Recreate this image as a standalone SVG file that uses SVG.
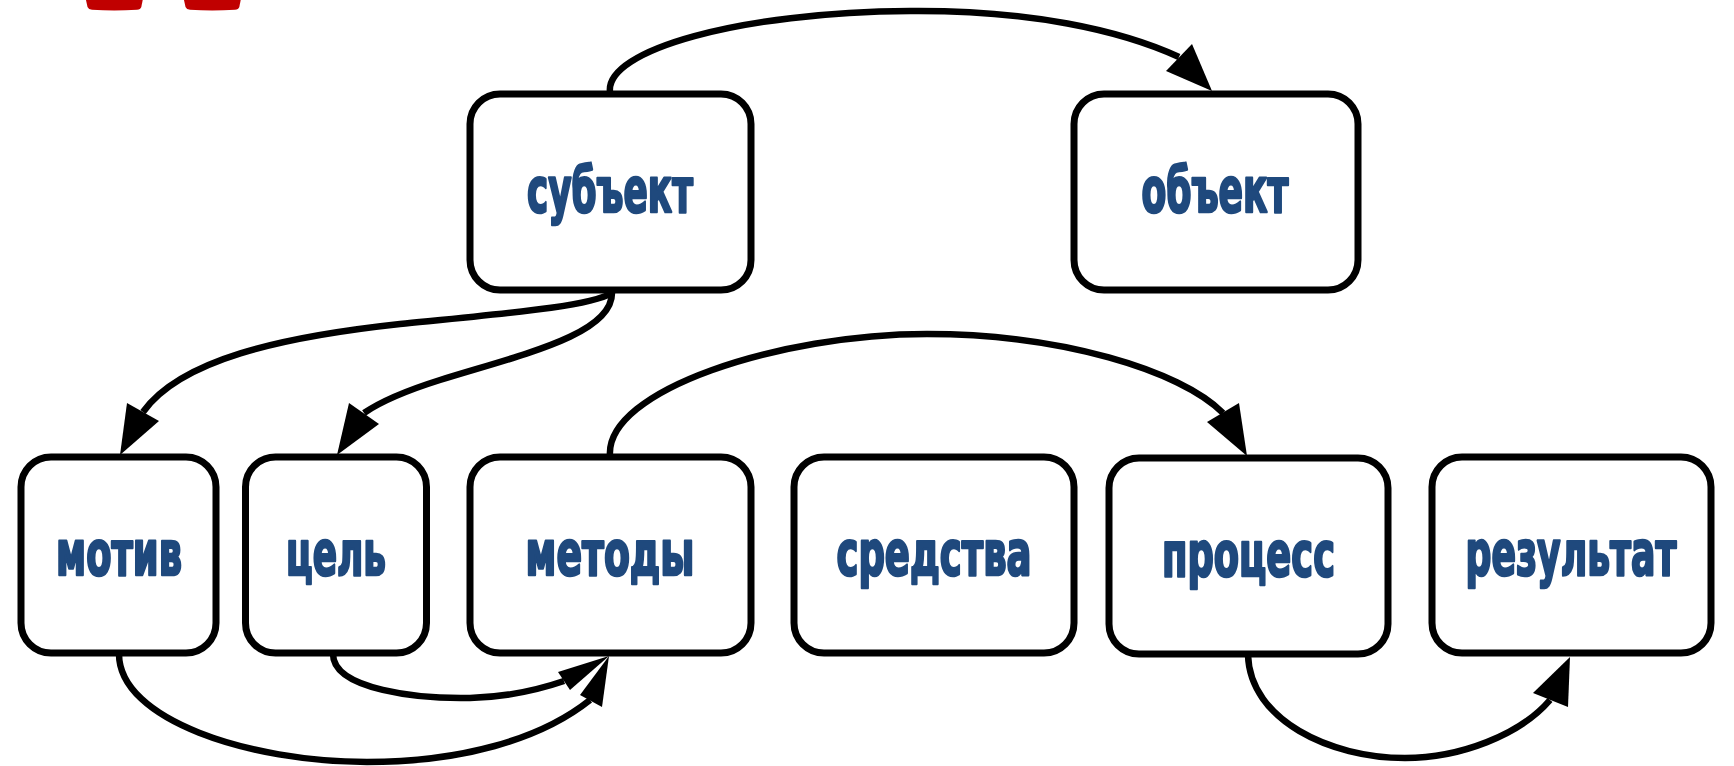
<svg xmlns="http://www.w3.org/2000/svg" width="1734" height="766" viewBox="0 0 1734 766">
<style>
.box{fill:#ffffff;stroke:#000000;stroke-width:7}
.lbl{font-family:"Liberation Sans Narrow","DejaVu Sans Condensed","Liberation Sans","DejaVu Sans",sans-serif;font-weight:bold;font-size:62px;fill:#1F497D;stroke:#1F497D;stroke-width:2.6;stroke-linejoin:round}
.edge{fill:none;stroke:#000000;stroke-width:6.5}
.head{fill:#000000;stroke:none}
.deco{fill:#C00000}
</style>
<rect width="1734" height="766" fill="#ffffff"/>
<path class="deco" d="M86,0 L87.5,7 Q88.5,9.5 92,9.8 Q114,11.3 137,9.8 Q140.5,9.5 141.3,7 L142.7,0 Z"/>
<path class="deco" d="M184,0 L185.5,7 Q186.5,9.5 190,9.8 Q212,11.3 235,9.8 Q238.5,9.5 239.3,7 L240.7,0 Z"/>
<g id="connectors">
<path class="edge" d="M610,92 C605,50 740,12 910,11 C1030,10 1120,30 1179,57"/>
<polygon class="head" points="1212,91 1192,44 1166,71"/>
<path class="edge" d="M612,293 C590,306 520,312 400,324 C280,337 180,360 143,412"/>
<polygon class="head" points="120,455 127,403 159,421"/>
<path class="edge" d="M612,293 C612,335 520,355 440,380 C405,391 380,402 364,413"/>
<polygon class="head" points="337,455 349,403 379,424"/>
<path class="edge" d="M610,456 C605,390 780,334 927,334 C1060,334 1180,370 1223,413"/>
<polygon class="head" points="1247,456 1239,403 1207,422"/>
<path class="edge" d="M119,654 C119,720 250,762 367,762 C460,762 540,740 590,700"/>
<polygon class="head" points="609,656 580,695 602,707"/>
<path class="edge" d="M333,654 C333,690 420,699 470,698 C505,697 535,691 564,681"/>
<polygon class="head" points="609,656 558,672 570,690"/>
<path class="edge" d="M1248,655 C1250,720 1330,758 1405,758 C1460,758 1520,735 1550,700"/>
<polygon class="head" points="1570,657 1533,693 1568,707"/>
</g>
<g id="node-subject">
<rect class="box" x="470" y="94" width="281" height="196" rx="30" ry="30"/>
<text class="lbl" transform="translate(610,212) scale(0.7,1)" x="-118.6" y="0" textLength="237.1" lengthAdjust="spacingAndGlyphs">субъект</text>
</g>
<g id="node-object">
<rect class="box" x="1074" y="94" width="284" height="196" rx="30" ry="30"/>
<text class="lbl" transform="translate(1215,212) scale(0.7,1)" x="-105" y="0" textLength="210" lengthAdjust="spacingAndGlyphs">объект</text>
</g>
<g id="node-motive">
<rect class="box" x="21" y="457" width="195" height="196" rx="30" ry="30"/>
<text class="lbl" transform="translate(119,575) scale(0.7,1)" x="-90" y="0" textLength="180" lengthAdjust="spacingAndGlyphs">мотив</text>
</g>
<g id="node-goal">
<rect class="box" x="245.5" y="457" width="181" height="196" rx="30" ry="30"/>
<text class="lbl" transform="translate(336,575) scale(0.7,1)" x="-71.4" y="0" textLength="142.9" lengthAdjust="spacingAndGlyphs">цель</text>
</g>
<g id="node-methods">
<rect class="box" x="470" y="457" width="281" height="196" rx="30" ry="30"/>
<text class="lbl" transform="translate(610,575) scale(0.7,1)" x="-120.7" y="0" textLength="241.4" lengthAdjust="spacingAndGlyphs">методы</text>
</g>
<g id="node-means">
<rect class="box" x="794" y="457" width="280" height="196" rx="30" ry="30"/>
<text class="lbl" transform="translate(934,575) scale(0.7,1)" x="-139.3" y="0" textLength="278.6" lengthAdjust="spacingAndGlyphs">средства</text>
</g>
<g id="node-process">
<rect class="box" x="1109" y="458" width="279" height="196" rx="30" ry="30"/>
<text class="lbl" transform="translate(1248.5,576) scale(0.7,1)" x="-123.6" y="0" textLength="247.1" lengthAdjust="spacingAndGlyphs">процесс</text>
</g>
<g id="node-result">
<rect class="box" x="1432" y="457" width="279" height="196" rx="30" ry="30"/>
<text class="lbl" transform="translate(1571,575) scale(0.7,1)" x="-150.7" y="0" textLength="301.4" lengthAdjust="spacingAndGlyphs">результат</text>
</g>
</svg>
